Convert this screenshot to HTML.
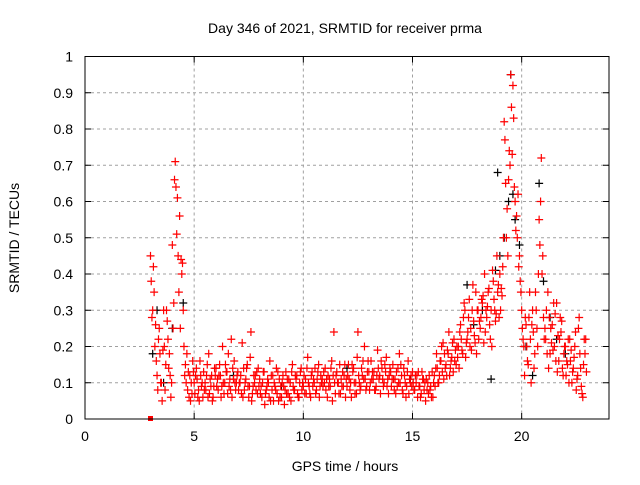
<!DOCTYPE html>
<html><head><meta charset="utf-8"><style>
body{margin:0;background:#fff}
svg{font-family:"Liberation Sans",sans-serif;font-size:14px}
</style></head><body>
<svg id="chart" width="640" height="480" xmlns="http://www.w3.org/2000/svg">
<rect width="640" height="480" fill="#fff"/>
<text x="345" y="33" text-anchor="middle">Day 346 of 2021, SRMTID for receiver prma</text>
<text x="345" y="471" text-anchor="middle">GPS time / hours</text>
<text transform="translate(19,238) rotate(-90)" text-anchor="middle">SRMTID / TECUs</text>
<g id="grid"></g><g id="ticks"></g><g id="marks"></g>
<rect x="85" y="56.5" width="524" height="362.5" fill="none" stroke="#000" stroke-width="1"/>
</svg>
<script>
const xTicks=[0,5,10,15,20];
const yTicks=[0,0.1,0.2,0.3,0.4,0.5,0.6,0.7,0.8,0.9,1];
const yTickLabels=["0","0.1","0.2","0.3","0.4","0.5","0.6","0.7","0.8","0.9","1"];
const redHours=[
3.0,3.1,3.2,3.3,3.4,3.5,3.6,3.7,3.8,3.9,
4.0,4.1,4.2,4.3,4.4,4.5,4.6,4.7,4.8,4.9,
5.0,5.1,5.2,5.3,5.4,5.5,5.6,5.7,5.8,5.9,
6.0,6.1,6.2,6.3,6.4,6.5,6.6,6.7,6.8,6.9,
7.0,7.1,7.2,7.3,7.4,7.5,7.6,7.7,7.8,7.9,
8.0,8.1,8.2,8.3,8.4,8.5,8.6,8.7,8.8,8.9,
9.0,9.1,9.2,9.3,9.4,9.5,9.6,9.7,9.8,9.9,
10.0,10.1,10.2,10.3,10.4,10.5,10.6,10.7,10.8,10.9,
11.0,11.1,11.2,11.3,11.4,11.5,11.6,11.7,11.8,11.9,
12.0,12.1,12.2,12.3,12.4,12.5,12.6,12.7,12.8,12.9,
13.0,13.1,13.2,13.3,13.4,13.5,13.6,13.7,13.8,13.9,
14.0,14.1,14.2,14.3,14.4,14.5,14.6,14.7,14.8,14.9,
15.0,15.1,15.2,15.3,15.4,15.5,15.6,15.7,15.8,15.9,
16.0,16.1,16.2,16.3,16.4,16.5,16.6,16.7,16.8,16.9,
17.0,17.1,17.2,17.3,17.4,17.5,17.6,17.7,17.8,17.9,
18.0,18.1,18.2,18.3,18.4,18.5,18.6,18.7,18.8,18.9,
19.0,19.1,19.2,19.3,19.4,19.5,19.6,19.7,19.8,19.9,
20.0,20.1,20.2,20.3,20.4,20.5,20.6,20.7,20.8,20.9,
21.0,21.1,21.2,21.3,21.4,21.5,21.6,21.7,21.8,21.9,
22.0,22.1,22.2,22.3,22.4,22.5,22.6,22.7,22.8,22.9];
const redTecA=[
.45,.30,.20,.12,.25,.10,.30,.15,.22,.12,
.48,.66,.51,.35,.44,.30,.15,.08,.12,.07,
.10,.14,.08,.12,.06,.10,.15,.07,.12,.09,
.14,.08,.12,.20,.10,.13,.09,.22,.11,.08,
.13,.10,.21,.08,.14,.06,.24,.09,.12,.07,
.11,.06,.13,.08,.10,.05,.12,.09,.07,.11,
.06,.09,.13,.07,.10,.15,.08,.12,.06,.14,
.09,.11,.17,.07,.13,.10,.08,.15,.12,.09,
.14,.06,.11,.16,.24,.12,.10,.07,.13,.15,
.09,.11,.06,.14,.10,.24,.08,.12,.20,.09,
.13,.16,.11,.08,.19,.12,.14,.10,.17,.07,
.13,.15,.11,.09,.18,.12,.14,.06,.16,.10,
.13,.08,.12,.09,.07,.11,.05,.10,.08,.13,
.12,.18,.10,.16,.21,.14,.19,.12,.17,.22,
.15,.20,.26,.18,.30,.22,.33,.19,.27,.35,
.30,.25,.32,.40,.28,.36,.30,.38,.27,.35,
.40,.34,.82,.50,.66,.95,.92,.60,.50,.45,
.30,.20,.26,.15,.22,.30,.18,.25,.55,.72,
.28,.22,.35,.18,.26,.20,.32,.16,.24,.12,
.20,.15,.22,.10,.17,.08,.25,.14,.06,.18];
const redTecB=[
.38,.42,.26,.08,.18,.05,.20,.30,.14,.06,
.25,.71,.61,.56,.40,.20,.10,.13,.05,.16,
.07,.11,.05,.09,.13,.08,.06,.11,.05,.14,
.09,.12,.06,.10,.15,.07,.11,.06,.16,.10,
.08,.12,.06,.10,.15,.09,.05,.12,.08,.14,
.07,.10,.04,.09,.06,.12,.05,.08,.13,.06,
.10,.04,.07,.11,.05,.09,.12,.07,.10,.08,
.12,.07,.10,.06,.09,.14,.11,.06,.10,.13,
.08,.12,.09,.05,.10,.13,.07,.11,.09,.06,
.12,.08,.15,.10,.07,.12,.09,.16,.11,.13,
.08,.11,.13,.09,.14,.07,.11,.15,.09,.12,
.09,.11,.07,.14,.10,.08,.12,.09,.07,.12,
.10,.12,.06,.09,.13,.08,.11,.07,.09,.06,
.09,.14,.12,.20,.11,.15,.18,.14,.21,.16,
.20,.14,.22,.28,.17,.24,.20,.30,.23,.18,
.22,.28,.34,.24,.31,.26,.20,.33,.29,.37,
.30,.42,.77,.58,.74,.86,.83,.52,.62,.38,
.25,.12,.20,.28,.10,.24,.35,.20,.48,.40,
.22,.30,.14,.25,.19,.29,.13,.22,.27,.18,
.12,.22,.16,.13,.20,.11,.28,.09,.15,.22];
const redTecC=[
.28,.35,.16,.22,.10,.19,.08,.27,.18,.10,
.32,.64,.45,.25,.43,.12,.18,.06,.10,.13,
.12,.06,.16,.10,.08,.12,.18,.09,.06,.12,
.11,.15,.09,.07,.13,.18,.08,.14,.10,.12,
.10,.07,.14,.11,.09,.17,.07,.10,.13,.09,
.09,.13,.07,.11,.16,.08,.10,.14,.05,.09,
.12,.08,.11,.06,.13,.08,.11,.06,.13,.10,
.07,.14,.09,.12,.11,.07,.13,.09,.11,.10,
.11,.09,.14,.12,.07,.10,.15,.09,.12,.11,
.15,.10,.13,.07,.17,.10,.14,.11,.08,.16,
.10,.13,.08,.12,.11,.16,.09,.13,.11,.14,
.11,.08,.13,.10,.15,.07,.10,.13,.11,.09,
.08,.10,.13,.06,.11,.10,.08,.12,.06,.10,
.14,.10,.16,.13,.18,.12,.24,.16,.13,.19,
.17,.24,.19,.32,.21,.28,.25,.37,.21,.30,
.27,.33,.21,.30,.35,.22,.41,.30,.45,.28,
.36,.50,.65,.45,.70,.73,.64,.56,.42,.35,
.22,.28,.16,.35,.26,.14,.30,.40,.60,.45,
.25,.18,.28,.21,.32,.16,.23,.28,.14,.20,
.16,.10,.19,.14,.24,.12,.18,.07,.22,.13];
const blackHours=[3.1,3.3,3.6,4.0,4.5,6.8,9.0,12.0,14.9,17.5,17.8,18.2,18.6,18.8,18.9,19.0,19.2,19.4,19.5,19.6,19.7,19.9,20.2,20.5,20.8,21.0,21.3,21.6,22.0];
const blackTec=[0.18,0.3,0.1,0.25,0.32,0.12,0.09,0.14,0.11,0.37,0.26,0.3,0.11,0.41,0.68,0.45,0.5,0.6,0.95,0.62,0.55,0.48,0.2,0.12,0.65,0.38,0.28,0.22,0.18];
const xs=h=>85+h*(524/24), ys=v=>419-v*362.5;
const NS="http://www.w3.org/2000/svg";
const grid=document.getElementById('grid'),ticks=document.getElementById('ticks'),marks=document.getElementById('marks');
function mk(tag,attrs,parent){const e=document.createElementNS(NS,tag);for(const k in attrs)e.setAttribute(k,attrs[k]);parent.appendChild(e);return e;}
xTicks.forEach(t=>{const x=xs(t);
 if(t>0){const g=mk('line',{x1:x,x2:x,y1:56.5,y2:419,stroke:'#a0a0a0','stroke-dasharray':'3,3'},grid);}
 mk('line',{x1:x,x2:x,y1:419,y2:413,stroke:'#000'},ticks);mk('line',{x1:x,x2:x,y1:56.5,y2:62.5,stroke:'#000'},ticks);
 const l=mk('text',{x:x,y:441,'text-anchor':'middle'},ticks);l.textContent=t;
 
 });
yTicks.forEach((t,i)=>{const y=ys(t);
 if(t>0&&t<1){const g=mk('line',{x1:85,x2:609,y1:y,y2:y,stroke:'#a0a0a0','stroke-dasharray':'3,3'},grid);}
 mk('line',{x1:85,x2:91,y1:y,y2:y,stroke:'#000'},ticks);mk('line',{x1:603,x2:609,y1:y,y2:y,stroke:'#000'},ticks);
 const l=mk('text',{x:73,y:y+5,'text-anchor':'end'},ticks);l.textContent=yTickLabels[i];
 
 });
function plus(h,v,c,name){const x=xs(h),y=ys(v);
 const p=mk('path',{d:`M${x-4},${y}h8M${x},${y-4}v8`,stroke:c,'stroke-width':1.2,fill:'none'},marks);
 
 }
blackHours.forEach((h,i)=>plus(h,blackTec[i],'#000','black-point'));
redHours.forEach((h,i)=>plus(h,redTecA[i],'#f00','red-point'));
redHours.forEach((h,i)=>plus(h+0.033,redTecB[i],'#f00','red-point'));
redHours.forEach((h,i)=>plus(h+0.066,redTecC[i],'#f00','red-point'));
const sq=mk('rect',{x:xs(3.0)-2.5,y:ys(0)-3,width:5,height:5,fill:'#f00'},marks);


</script>
</body></html>
